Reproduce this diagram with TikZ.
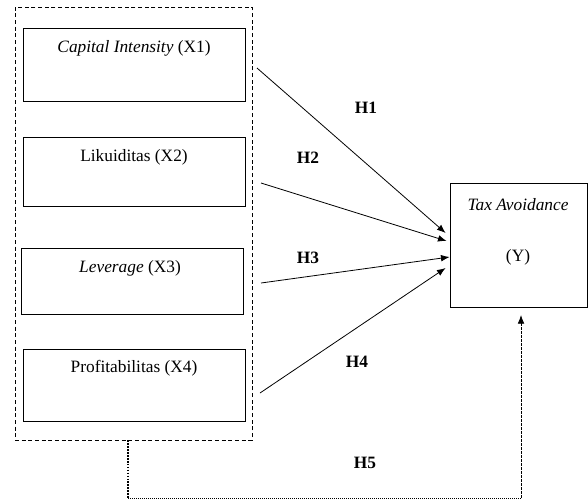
\documentclass[tikz,border=0pt]{standalone}
\usepackage{fontspec}
\setmainfont{Liberation Serif}
\usepackage{tikz}
\usetikzlibrary{calc}
\usetikzlibrary{arrows.meta}

\begin{document}
\begin{tikzpicture}[x=0.75pt, y=-0.75pt, font=\fontsize{13}{15}\selectfont,
    varbox/.style={draw, line width=0.6pt, minimum width=166pt, inner sep=0pt},
    group/.style={draw, dashed, dash pattern=on 3pt off 2pt, line width=0.6pt, minimum width=177.75pt, minimum height=324.75pt, inner sep=0pt},
    hyp/.style={font=\fontsize{13}{15}\selectfont\bfseries},
    path/.style={line width=0.6pt, -{Latex[length=6.5pt, width=5pt]}}]

\useasboundingbox (0,0) rectangle (588,501);

\node[group] (grp) at (133.5,223.5) {};

\node[varbox, minimum height=54.75pt] (x1) at (134.5,64.5) {};
\node[varbox, minimum height=51.75pt] (x2) at (134.5,171.5) {};
\node[varbox, minimum height=49.5pt] (x3) at (132.5,281) {};
\node[varbox, minimum height=54pt] (x4) at (134.5,385) {};

\node (x1lbl) at (134,48) {\textit{Capital Intensity} (X1)};
\node (x2lbl) at (134,157) {Likuiditas (X2)};
\node (x3lbl) at (130,268) {\textit{Leverage} (X3)};
\node (x4lbl) at (134,368) {Profitabilitas (X4)};

\node[varbox, minimum width=102.75pt, minimum height=93pt] (y) at (518.5,245) {};
\node (ylbl) at (518,205) {\textit{Tax Avoidance}};
\node (yid) at (518,257) {(Y)};

\coordinate (s1) at (257,68);
\coordinate (s2) at (261,183);
\coordinate (s3) at (261,283);
\coordinate (s4) at (260,393);

\draw[path] (s1) -- ($(y.west)+(-4,-12)$);
\draw[path] (s2) -- ($(y.west)+(-3,-4)$);
\draw[path] (s3) -- ($(y.west)+(0,12)$);
\draw[path] (s4) -- ($(y.west)+(-4,23)$);

\node[hyp] (h1) at (366,108) {H1};
\node[hyp] (h2) at (308,158) {H2};
\node[hyp] (h3) at (308,258) {H3};
\node[hyp] (h4) at (357,362) {H4};
\node[hyp] (h5) at (365,463) {H5};

\coordinate (h5a) at (128,498);
\coordinate (h5b) at (521,498);
\coordinate (h5c) at (521,315);

\draw[line width=1.2pt, densely dotted] (grp.south -| h5a) -- (h5a);
\draw[line width=0.5pt, densely dotted] (h5a) -- (h5b);
\draw[line width=0.6pt, dash pattern=on 2pt off 1pt, -{Latex[length=6.5pt, width=5pt]}] (h5b) -- (h5c);

\end{tikzpicture}
\end{document}
